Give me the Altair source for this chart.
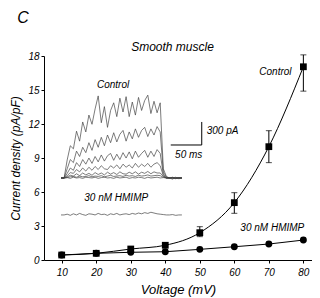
import altair as alt
import pandas as pd

# ---- main I-V data ----
voltage = [10, 20, 30, 40, 50, 60, 70, 80]
control = [0.44, 0.59, 0.97, 1.30, 2.41, 5.06, 10.0, 17.05]
control_lo = [0.44, 0.59, 0.97, 1.30, 2.06, 4.12, 8.59, 14.9]
control_hi = [0.44, 0.59, 0.97, 1.30, 2.94, 5.94, 11.41, 18.1]
hmimp = [0.44, 0.59, 0.68, 0.73, 0.94, 1.17, 1.41, 1.76]

y_ticks = [0, 3, 6, 9, 12, 15, 18]
x_ticks = [10, 20, 30, 40, 50, 60, 70, 80]

# ---- inset current traces (time in ms, current in pA) ----
time_ms = [0, 5, 10, 15, 20, 25, 30, 35, 40, 45, 50, 55, 60, 65, 70, 75, 80, 85, 90, 95,
           100, 105, 110, 115, 120, 125, 130, 135, 140, 145, 150, 155, 160, 165, 170, 175,
           180, 185, 190, 195]
ctrl_tr1 = [0, 0, 235, 420, 380, 610, 480, 730, 600, 820, 700, 900, 1070, 720, 930, 660, 880, 980, 800, 1040,
            860, 1060, 800, 990, 820, 1050, 880, 1010, 1080, 840, 1000, 850, 980, 120, 20, 0, -15, 10, -10, 0]
ctrl_tr2 = [0, 0, 120, 240, 200, 350, 280, 400, 330, 460, 360, 500, 400, 530, 420, 560, 460, 590, 470, 570,
            620, 480, 600, 510, 640, 530, 620, 660, 540, 640, 560, 670, 600, 80, 10, 0, 10, -10, 5, 0]
ctrl_tr3 = [0, 0, 60, 130, 100, 200, 150, 240, 180, 260, 190, 280, 210, 300, 220, 290, 320, 230, 310, 240,
            330, 260, 340, 250, 350, 270, 320, 360, 270, 350, 280, 370, 320, 50, 0, -5, 5, -5, 0, 0]
ctrl_tr4 = [0, 0, 30, 70, 60, 110, 80, 130, 90, 140, 100, 150, 110, 160, 120, 110, 160, 130, 170, 120,
            180, 140, 170, 130, 190, 140, 180, 150, 190, 140, 180, 200, 160, 30, 0, 5, -5, 0, 5, 0]
ctrl_tr5 = [0, 0, 15, 35, 25, 55, 30, 65, 40, 60, 35, 70, 45, 65, 40, 75, 50, 70, 45, 80,
            55, 50, 75, 55, 80, 50, 75, 60, 85, 55, 80, 65, 65, 20, 0, 0, 5, 0, -5, 0]
ctrl_tr6 = [0, 0, 5, 15, 20, 10, 25, 15, 20, 30, 15, 25, 20, 30, 15, 25, 35, 20, 25, 30,
            20, 35, 25, 30, 20, 35, 25, 30, 40, 25, 30, 35, 30, 10, 0, 0, 0, 0, 0, 0]
ctrl_tr7 = [0, 0, 5, -5, 10, 0, 5, -5, 10, 5, 0, 10, -5, 5, 10, 0, 5, -5, 10, 0,
            5, 10, -5, 5, 0, 10, 5, -5, 10, 0, 5, 10, 0, 5, 0, 0, 0, 0, 0, 0]
hmimp_tr = [0, 0, 10, -5, 15, 0, 20, 5, -5, 15, 10, 0, 20, 5, 10, -5, 15, 5, 20, 0,
            10, 15, 5, 20, 10, 25, 15, 30, 20, 35, 25, 15, 10, 5, 0, 0, 5, -5, 0, 0]

# scale bar (50 ms, 300 pA)
bar_t = [177, 227]
bar_i = [430, 730]

FONT = "Liberation Sans"
BLACK = "#000000"

main_df = pd.DataFrame({
    "voltage": voltage, "control": control, "lo": control_lo, "hi": control_hi, "hmimp": hmimp,
})
err_df = main_df[main_df["hi"] > main_df["lo"]]

xs = alt.Scale(domain=[4.87, 82.5], nice=False, zero=False)
ys = alt.Scale(domain=[0, 18], nice=False, zero=False)

x_axis = alt.Axis(values=x_ticks, title="Voltage (mV)", tickSize=3, labelPadding=4,
                  titlePadding=6, titleFontSize=13, labelFontSize=10, labelOverlap=False)
y_axis = alt.Axis(values=y_ticks, title="Current density (pA/pF)", tickSize=3, labelPadding=2,
                  titlePadding=5, titleFontSize=12, labelFontSize=10, labelOverlap=False)

XA = lambda f: alt.X(f, scale=xs, axis=x_axis)
YA = lambda f: alt.Y(f, scale=ys, axis=y_axis)

base = alt.Chart(main_df)
ctrl_line = base.mark_line(color=BLACK, strokeWidth=1, interpolate="monotone").encode(
    x=XA("voltage:Q"), y=YA("control:Q"))
hm_line = base.mark_line(color=BLACK, strokeWidth=1).encode(x=XA("voltage:Q"), y=YA("hmimp:Q"))
err_rule = alt.Chart(err_df).mark_rule(color=BLACK, strokeWidth=1).encode(
    x=XA("voltage:Q"), y=YA("lo:Q"), y2="hi:Q")
cap_lo = alt.Chart(err_df).mark_tick(color=BLACK, orient="horizontal", size=6, thickness=1).encode(
    x=XA("voltage:Q"), y=YA("lo:Q"))
cap_hi = alt.Chart(err_df).mark_tick(color=BLACK, orient="horizontal", size=6, thickness=1).encode(
    x=XA("voltage:Q"), y=YA("hi:Q"))
hm_pts = base.mark_circle(color=BLACK, size=48, opacity=1).encode(x=XA("voltage:Q"), y=YA("hmimp:Q"))
ctrl_pts = base.mark_square(color=BLACK, size=46, opacity=1).encode(x=XA("voltage:Q"), y=YA("control:Q"))

lab_df = pd.DataFrame({
    "v": [71.9, 71.0, 42.1],
    "d": [16.6, 2.82, 18.8],
    "s": ["Control", "30 nM HMIMP", "Smooth muscle"],
    "fs": [10, 10, 12],
})
labels = alt.Chart(lab_df).mark_text(font=FONT, fontStyle="italic", color=BLACK, baseline="middle").encode(
    x=XA("v:Q"), y=YA("d:Q"), text="s:N",
    size=alt.Size("fs:Q", scale=None, legend=None))

panel_df = pd.DataFrame({"s": ["C"]})
panel = alt.Chart(panel_df).mark_text(font=FONT, fontStyle="italic", fontSize=16, color=BLACK,
                                      baseline="middle", align="center").encode(
    text="s:N", x=alt.value(-21), y=alt.value(-38))

main = alt.layer(ctrl_line, hm_line, err_rule, cap_lo, cap_hi, hm_pts, ctrl_pts, labels, panel)

# ---- inset ----
rows = []
for name, tr in [("c1", ctrl_tr1), ("c2", ctrl_tr2), ("c3", ctrl_tr3), ("c4", ctrl_tr4),
                 ("c5", ctrl_tr5), ("c6", ctrl_tr6), ("c7", ctrl_tr7)]:
    for t, i in zip(time_ms, tr):
        rows.append({"t": t, "i": i, "trace": name, "grp": "ctrl"})
for t, i in zip(time_ms, hmimp_tr):
    rows.append({"t": t, "i": i, "trace": "hm", "grp": "hm"})
tr_df = pd.DataFrame(rows)

xi = alt.Scale(domain=[0, 240], range=[17, 165.8], nice=False, zero=False)
yi = alt.Scale(domain=[-600, 1100], range=[168, 37.6], nice=False, zero=False)

traces = alt.Chart(tr_df).transform_calculate(
    ip="datum.grp == 'hm' ? datum.i - 482 : datum.i"
).mark_line(color="#444444", strokeWidth=0.7).encode(
    x=alt.X("t:Q", scale=xi, axis=None),
    y=alt.Y("ip:Q", scale=yi, axis=None),
    detail="trace:N",
)

sb_df = pd.DataFrame({
    "t": [bar_t[0], bar_t[1]], "t2": [bar_t[1], bar_t[1]],
    "i": [bar_i[0], bar_i[0]], "i2": [bar_i[0], bar_i[1]],
})
scalebar = alt.Chart(sb_df).mark_rule(color=BLACK, strokeWidth=1).encode(
    x=alt.X("t:Q", scale=xi, axis=None), x2="t2:Q",
    y=alt.Y("i:Q", scale=yi, axis=None), y2="i2:Q")

inset_lab_df = pd.DataFrame({
    "t": [84, 89, 235, 184],
    "i": [1213, -260, 613, 300],
    "s": ["Control", "30 nM HMIMP", "300 pA", "50 ms"],
    "al": ["center", "center", "left", "left"],
})
inset_c = alt.Chart(inset_lab_df[inset_lab_df["al"] == "center"]).mark_text(
    font=FONT, fontStyle="italic", fontSize=10, color=BLACK, align="center", baseline="middle").encode(
    x=alt.X("t:Q", scale=xi, axis=None), y=alt.Y("i:Q", scale=yi, axis=None), text="s:N")
inset_l = alt.Chart(inset_lab_df[inset_lab_df["al"] == "left"]).mark_text(
    font=FONT, fontStyle="italic", fontSize=10, color=BLACK, align="left", baseline="middle").encode(
    x=alt.X("t:Q", scale=xi, axis=None), y=alt.Y("i:Q", scale=yi, axis=None), text="s:N")

inset = alt.layer(traces, scalebar, inset_c, inset_l)

chart = alt.layer(main, inset).resolve_scale(x="independent", y="independent").properties(
    width=268, height=204,
    padding={"left": 36, "top": 48, "right": 0, "bottom": 38},
    autosize=alt.AutoSizeParams(type="none"),
    background="white",
).configure_view(stroke=None).configure_axis(
    domainColor=BLACK, tickColor=BLACK, labelColor=BLACK, titleColor=BLACK,
    labelFont=FONT, titleFont=FONT, labelFontStyle="italic", titleFontStyle="italic",
    titleFontWeight="normal", grid=False, domainWidth=1, tickWidth=1,
)

chart.save("out.html", embed_options={"renderer": "svg", "actions": False})
